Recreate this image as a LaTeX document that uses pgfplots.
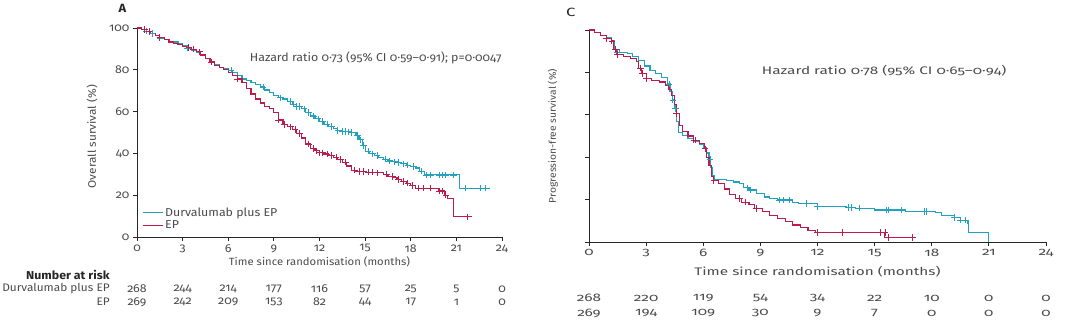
\documentclass[border=0pt]{standalone}
\usepackage{fontspec}
\setmainfont{Fira Sans}[Numbers=OldStyle]
\newfontfamily\fa{Fira Sans}[Numbers=OldStyle, FakeStretch=1.08]
\newfontfamily\fc{Fira Sans}[Numbers=OldStyle, FakeStretch=1.4]
\usepackage{pgfplots}
\pgfplotsset{compat=1.18}
\definecolor{durva}{RGB}{35,162,192}
\definecolor{ep}{RGB}{188,28,75}
\definecolor{txt}{RGB}{75,75,75}
\pgfplotsset{kmaxis/.style={scale only axis, axis lines=left,
  axis line style={-, line width=0.9pt, color=black!85},
  tick style={black!85, line width=0.8pt}, tick align=outside, major tick length=4bp,
  xmin=0, xmax=24, ymin=0, ymax=100, xtick={0,3,...,24}, ytick={0,20,...,100},
  /pgf/number format/assume math mode=true, clip=false,
  every axis plot/.append style={line width=1.15pt}},
  cens/.style={only marks, mark=+, mark size=3.2pt, mark options={line width=0.8pt}, forget plot}}
\newcommand{\ftA}{\fa\fontsize{11.5}{13}\selectfont}
\newcommand{\ftC}{\fc\fontsize{11}{13}\selectfont}
\newcommand{\riskA}[3]{\node[font=\ftA, color=txt] at (axis cs:#1,-24.9) {#2};
  \node[font=\ftA, color=txt] at (axis cs:#1,-31.1) {#3};}
\newcommand{\riskC}[3]{\node[font=\ftC, color=txt] at (axis cs:#1,-26.4) {#2};
  \node[font=\ftC, color=txt] at (axis cs:#1,-33.5) {#3};}
\begin{document}
\begin{tikzpicture}
\useasboundingbox (0,0) rectangle (1080bp,327bp);
% ---------------- Panel A ----------------
\begin{axis}[kmaxis, at={(137bp,90bp)}, anchor=south west, width=365bp, height=209bp,
  tick label style={font=\ftA, color=txt},
  legend cell align=left,
  legend style={at={(axis cs:0.25,15.5)}, anchor=north west, draw=none, fill=none,
    font=\ftA\color{txt}, row sep=-1pt, inner sep=1pt},
  legend image code/.code={\draw[#1] (0bp,0bp) -- (20bp,0bp);}]
\addplot[const plot, durva] coordinates {(0,100) (0.3,99.3) (0.6,98.5) (0.9,97.4) (1.2,96.3) (1.5,95.1) (1.8,94.4) (2.1,93.7) (2.4,93.3) (2.7,92.6) (3.0,91.5) (3.3,90.4) (3.6,89.3) (3.9,88.2) (4.2,86.7) (4.5,85.5) (4.8,83.8) (5.1,82.3) (5.4,81.2) (5.7,80.4) (6.0,79.8) (6.3,78.9) (6.6,77.4) (6.9,75.6) (7.2,74.7) (7.5,73.8) (7.8,72.8) (8.1,71.8) (8.4,70.3) (8.7,69.0) (9.0,67.6) (9.3,66.6) (9.6,66.0) (9.9,64.8) (10.2,63.5) (10.5,62.4) (10.8,61.3) (11.1,59.6) (11.4,57.9) (11.7,56.6) (12.0,55.2) (12.3,54.0) (12.6,52.8) (12.9,51.8) (13.2,50.9) (13.5,50.5) (13.8,50.3) (14.1,50.0) (14.4,48.6) (14.6,46.5) (14.8,43.8) (15.0,41.0) (15.3,39.8) (15.6,39.0) (15.9,38.2) (16.2,37.2) (16.5,36.4) (16.8,36.0) (17.1,35.6) (17.4,35.0) (17.7,34.4) (18.0,33.7) (18.3,33.0) (18.6,31.5) (18.9,29.7) (21.2,23.3) (23.2,23.3)};
\addlegendentry{Durvalumab plus EP}
\addplot[const plot, ep] coordinates {(0,100) (0.3,99.3) (0.6,98.4) (0.9,97.5) (1.2,96.6) (1.5,95.5) (1.8,94.3) (2.1,93.3) (2.4,92.6) (2.7,92.0) (3.0,91.3) (3.3,90.7) (3.6,89.9) (3.9,88.6) (4.2,87.1) (4.5,85.5) (4.8,83.7) (5.1,82.2) (5.4,81.2) (5.7,80.0) (6.0,78.6) (6.3,77.1) (6.6,75.6) (6.9,73.8) (7.2,71.2) (7.5,68.4) (7.8,66.0) (8.1,64.1) (8.4,62.6) (8.7,61.3) (9.0,59.5) (9.3,56.0) (9.6,53.8) (9.9,52.7) (10.2,51.4) (10.5,49.5) (10.8,47.4) (11.1,44.5) (11.4,42.4) (11.7,41.2) (12.0,40.3) (12.3,39.7) (12.6,39.0) (12.9,38.2) (13.2,37.0) (13.5,35.8) (13.8,34.0) (14.1,32.0) (14.4,31.3) (15.0,31.0) (15.6,30.7) (16.2,30.0) (16.5,29.0) (16.8,28.3) (17.1,27.5) (17.4,26.6) (17.7,25.7) (18.0,24.6) (18.3,23.3) (19.8,22.0) (20.2,20.0) (20.4,18.5) (20.8,9.7) (22.0,9.7)};
\addlegendentry{EP}
\addplot[cens, durva] coordinates {(0.6,98.5) (1.0,97.4) (1.5,95.1) (3.3,90.4) (6.2,79.8) (8.3,71.8) (9.4,66.6) (10.1,64.8) (10.3,63.5) (10.5,62.4) (10.7,62.4) (11.0,61.3) (11.3,59.6) (11.6,57.9) (11.9,56.6) (12.2,55.2) (12.5,54.0) (12.8,52.8) (13.2,50.9) (13.5,50.5) (13.7,50.5) (13.9,50.3) (14.1,50.0) (14.5,48.6) (14.7,46.5) (14.9,43.8) (15.2,41.0) (15.5,39.8) (15.8,39.0) (16.3,37.2) (16.6,36.4) (16.9,36.0) (17.2,35.6) (17.5,35.0) (17.8,34.4) (18.2,33.7) (18.7,31.5) (19.0,29.7) (19.3,29.7) (19.9,29.7) (20.1,29.7) (20.3,29.7) (20.8,29.7) (21.6,23.3) (22.6,23.3) (22.9,23.3)};
\addplot[cens, ep] coordinates {(0.5,99.3) (0.8,98.4) (1.5,95.5) (3.4,90.7) (3.7,89.9) (4.1,88.6) (4.9,83.7) (6.6,75.6) (9.3,56.0) (9.7,53.8) (10.1,52.7) (10.4,51.4) (10.7,49.5) (11.3,44.5) (11.6,42.4) (11.8,41.2) (12.0,40.3) (12.2,40.3) (12.5,39.7) (12.8,39.0) (13.1,38.2) (13.4,37.0) (13.7,35.8) (14.3,32.0) (14.6,31.3) (14.9,31.3) (15.2,31.0) (15.5,31.0) (15.8,30.7) (16.4,30.0) (16.8,29.0) (17.2,27.5) (17.5,26.6) (17.8,25.7) (18.1,24.6) (18.5,23.3) (18.8,23.3) (19.3,23.3) (19.9,22.0) (20.1,22.0) (20.3,20.0) (21.7,9.7)};
\node[font=\fa\bfseries\fontsize{12}{13}\selectfont, color=black!85] at (axis cs:-0.95,109.5) {A};
\node[font=\ftA, color=txt] at (axis cs:15.7,85.6) {Hazard ratio 0·73 (95\% CI 0·59–0·91); p=0·0047};
\node[font=\fa\fontsize{11}{13}\selectfont, color=txt, rotate=90] at (axis cs:-2.96,48) {Overall survival (\%)};
\node[font=\fa\fontsize{10.5}{13}\selectfont, color=txt] at (axis cs:12,-12) {Time since randomisation (months)};
\node[font=\fa\bfseries\fontsize{11.5}{13}\selectfont, color=black!85, anchor=east, inner sep=0pt] at (axis cs:-1.78,-18.2) {Number at risk};
\node[font=\fa\fontsize{11}{13}\selectfont, color=txt, anchor=east, inner sep=0pt] at (axis cs:-1.78,-24.9) {Durvalumab plus EP};
\node[font=\fa\fontsize{11}{13}\selectfont, color=txt, anchor=east, inner sep=0pt] at (axis cs:-1.78,-31.1) {EP};
\riskA{0}{268}{269}\riskA{3}{244}{242}\riskA{6}{214}{209}\riskA{9}{177}{153}\riskA{12}{116}{82}
\riskA{15}{57}{44}\riskA{18}{25}{17}\riskA{21}{5}{1}\riskA{24}{0}{0}
\end{axis}
% ---------------- Panel C ----------------
\begin{axis}[kmaxis, at={(589bp,85bp)}, anchor=south west, width=457bp, height=212bp,
  tick label style={font=\ftC, color=txt}, yticklabels={}]
\addplot[const plot, durva] coordinates {(0,100) (0.3,98.8) (0.6,97.5) (0.9,96.2) (1.2,94.8) (1.35,91) (1.6,89.3) (2.0,89.0) (2.3,87.5) (2.6,85.5) (2.9,83.0) (3.2,81.0) (3.5,79.5) (3.8,77.5) (4.1,74.5) (4.25,71) (4.4,67) (4.5,63) (4.6,57) (4.7,51.5) (4.9,50.3) (5.2,48.8) (5.5,47.3) (5.8,46.0) (6.0,44.5) (6.15,42) (6.3,39) (6.4,35) (6.5,31.5) (6.6,29.5) (7.2,29.0) (7.6,28.3) (7.9,27.5) (8.1,25.6) (8.4,24.5) (8.8,23.0) (9.2,21.2) (9.5,20.4) (9.9,19.8) (10.7,18.5) (11.0,18.2) (12.0,16.8) (13.5,16.3) (14.0,15.9) (15.0,15.1) (16.6,14.4) (18.2,13.9) (18.5,12.3) (19.2,11.5) (19.5,10.3) (19.9,8.8) (19.95,4.4) (21.0,0)};
\addplot[const plot, ep] coordinates {(0,100) (0.3,98.8) (0.6,97.5) (0.9,96) (1.2,94.8) (1.3,91) (1.45,88.5) (1.8,87.5) (2.2,86.5) (2.5,85) (2.6,82) (2.75,79.5) (3.0,77) (3.3,76) (3.7,75.5) (4.0,74) (4.2,72) (4.35,69) (4.5,65) (4.6,60.5) (4.75,55) (4.9,52) (5.2,50) (5.5,48) (5.8,46.5) (6.05,44) (6.15,40) (6.3,36) (6.45,31) (6.55,29) (6.8,27.5) (7.1,25) (7.4,22.5) (7.7,20.5) (8.0,18.8) (8.4,17.5) (8.7,15.8) (9.1,14.3) (9.5,12.5) (9.9,11.0) (10.3,9.5) (10.7,8.0) (11.1,6.8) (11.5,5.5) (11.9,4.4) (15.5,2.2) (17.0,2.2)};
\addplot[cens, durva] coordinates {(1.5,89.3) (4.2,74.5) (4.4,67) (4.55,63) (6.35,39) (8.3,25.6) (8.5,24.5) (10.0,19.8) (10.2,19.8) (10.5,19.8) (11.4,18.2) (12.0,16.8) (13.6,16.3) (13.8,16.3) (14.2,15.9) (15.6,15.1) (15.7,15.1) (16.4,15.1) (17.6,14.4) (17.7,14.4) (19.2,11.5) (19.5,10.3) (19.75,10.3)};
\addplot[cens, ep] coordinates {(0.9,96) (1.2,94.8) (1.4,91) (1.5,88.5) (2.7,82) (2.8,79.5) (3.0,77) (4.6,60.5) (5.5,48) (5.6,48) (6.1,44) (6.55,29) (7.9,20.5) (8.2,18.8) (8.8,15.8) (12.0,4.4) (13.3,4.4) (15.3,4.4) (15.55,4.4) (15.7,2.2) (17.0,2.2)};
\node[font=\fc\fontsize{12}{13}\selectfont, color=black!85] at (axis cs:-0.95,108.5) {C};
\node[font=\ftC, color=txt] at (axis cs:15.5,81) {Hazard ratio 0·78 (95\% CI 0·65–0·94)};
\node[font=\fa\fontsize{9.6}{11}\selectfont, color=txt, rotate=90] at (axis cs:-1.9,50) {Progression-free survival (\%)};
\node[font=\ftC, color=txt] at (axis cs:12,-14.2) {Time since randomisation (months)};
\riskC{0}{268}{269}\riskC{3}{220}{194}\riskC{6}{119}{109}\riskC{9}{54}{30}\riskC{12}{34}{9}
\riskC{15}{22}{7}\riskC{18}{10}{0}\riskC{21}{0}{0}\riskC{24}{0}{0}
\end{axis}
\end{tikzpicture}
\end{document}
